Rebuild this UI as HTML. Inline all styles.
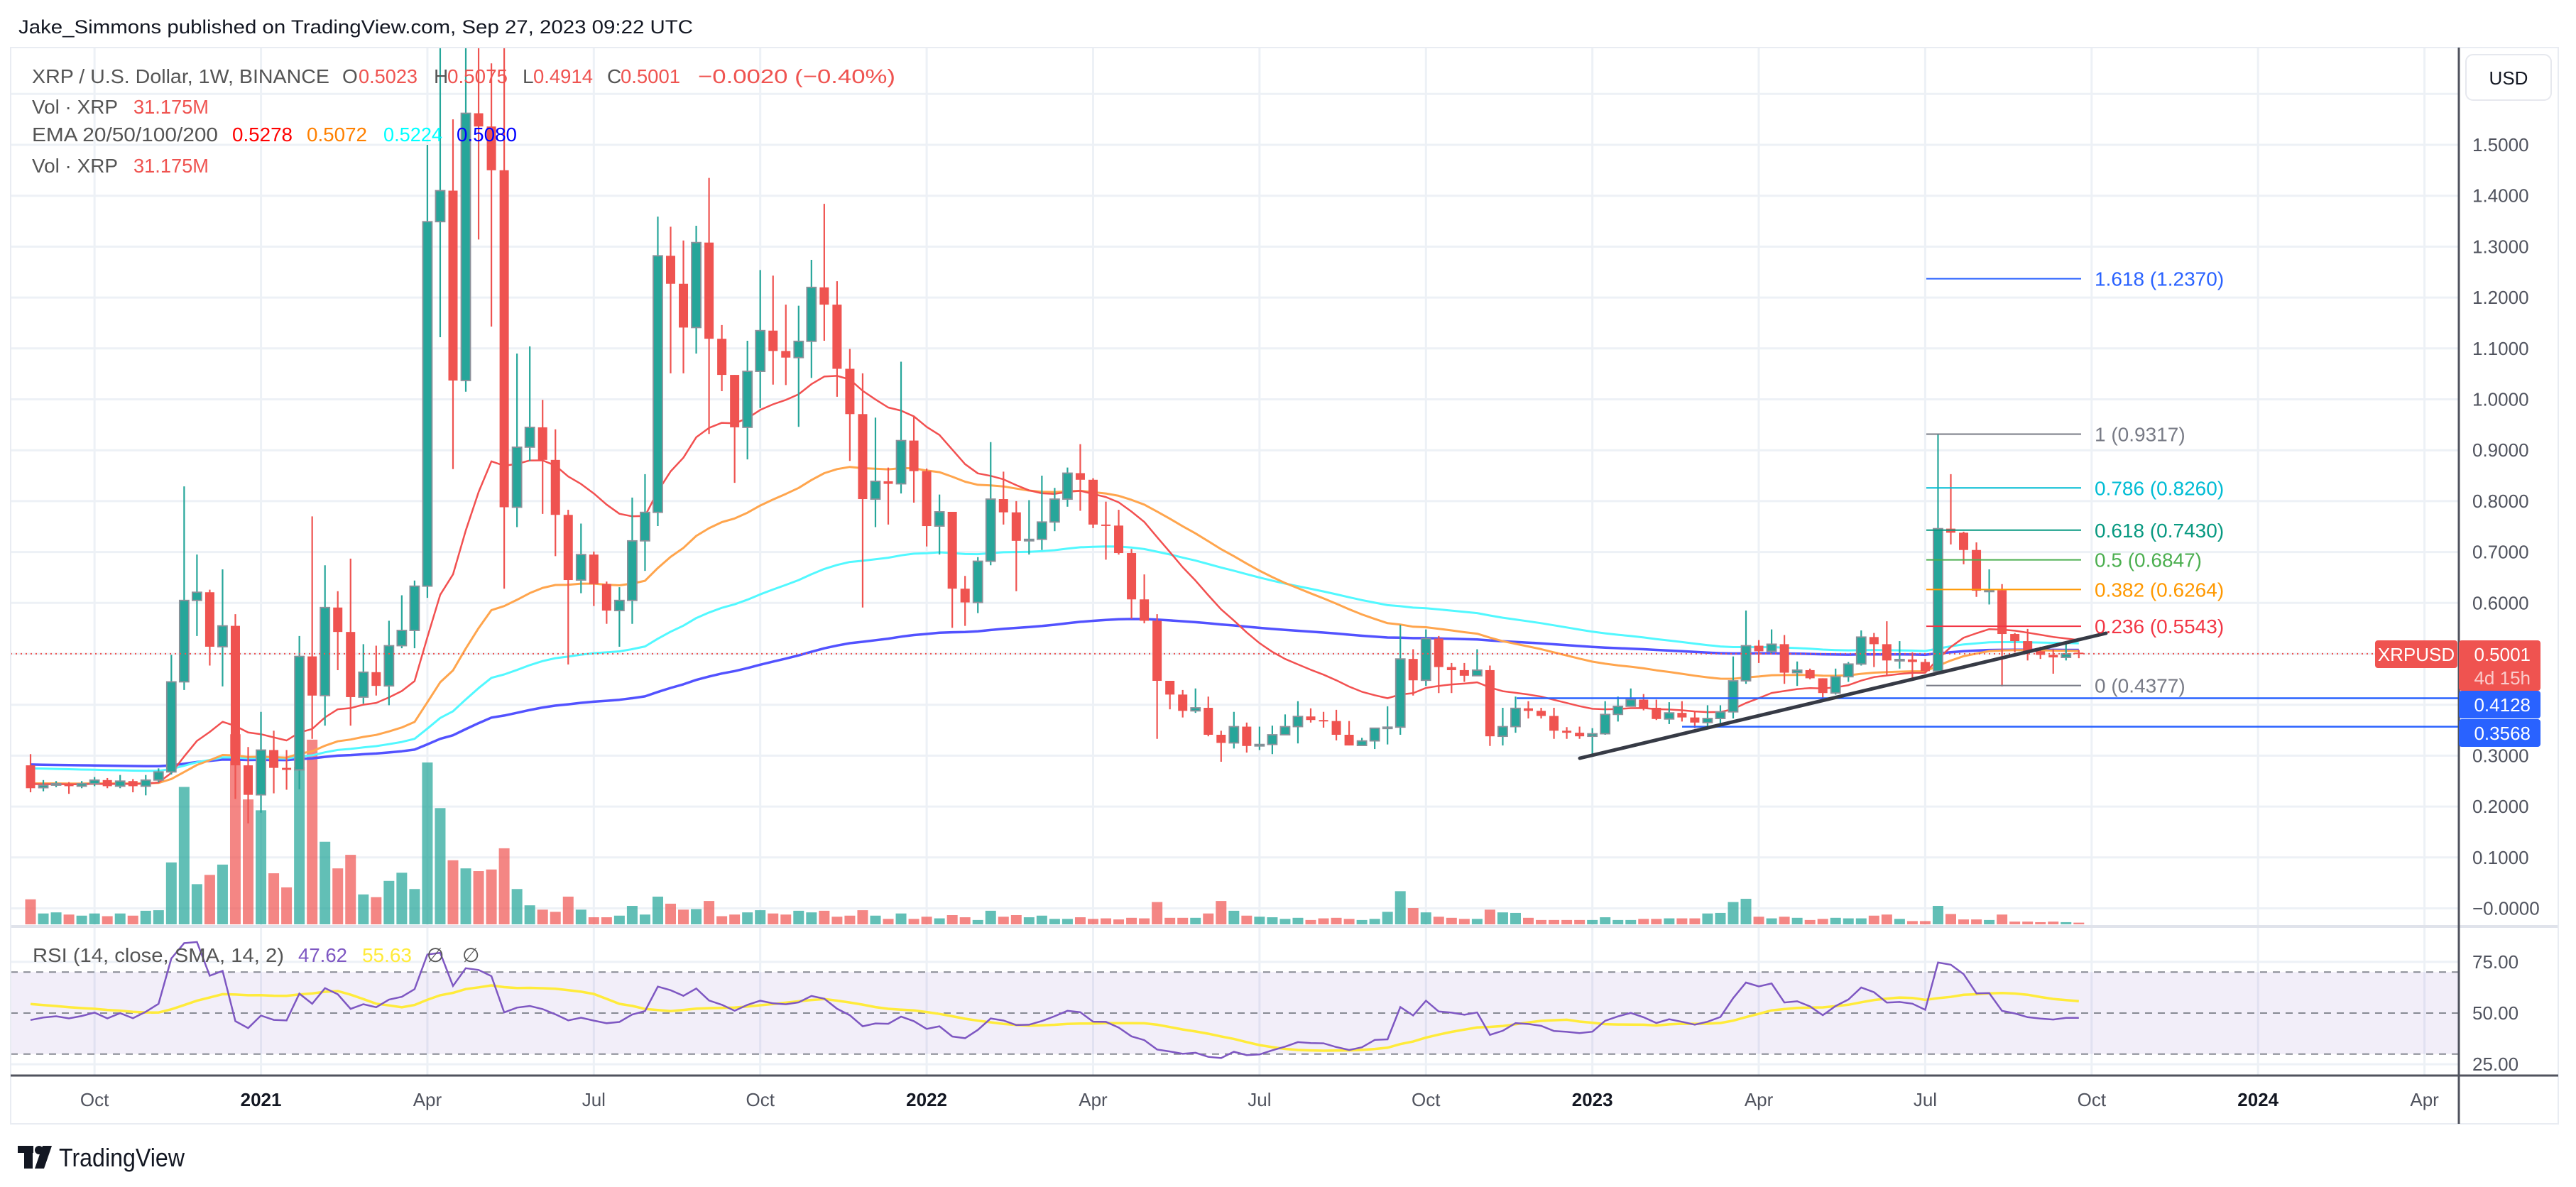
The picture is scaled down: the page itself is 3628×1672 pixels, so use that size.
<!DOCTYPE html>
<html><head><meta charset="utf-8"><title>XRP/USD weekly chart</title>
<style>
html,body{margin:0;padding:0;background:#fff;}
svg{display:block;font-family:"Liberation Sans",sans-serif;}
</style></head>
<body>
<svg id="chart" width="3628" height="1672" viewBox="0 0 3628 1672" xmlns="http://www.w3.org/2000/svg">
<rect x="0" y="0" width="3628" height="1672" fill="#ffffff"/>
<text x="26" y="47" font-size="27" fill="#131722" textLength="950" lengthAdjust="spacingAndGlyphs">Jake_Simmons published on TradingView.com, Sep 27, 2023 09:22 UTC</text>
<g id="grid"></g>
<g id="volumes"></g>
<g id="emas"></g>
<g id="candles"></g>
<g id="overlays"></g>
<g id="rsi"></g>
<g id="axes"></g>
<g id="legend">
  <text x="45" y="117" font-size="28"><tspan fill="#555" textLength="419" lengthAdjust="spacingAndGlyphs">XRP / U.S. Dollar, 1W, BINANCE</tspan></text>
  <text x="482" y="117" font-size="28" fill="#555">O</text>
  <text x="505" y="117" font-size="28" fill="#ef5350" textLength="83" lengthAdjust="spacingAndGlyphs">0.5023</text>
  <text x="611" y="117" font-size="28" fill="#555">H</text>
  <text x="630" y="117" font-size="28" fill="#ef5350" textLength="85" lengthAdjust="spacingAndGlyphs">0.5075</text>
  <text x="736" y="117" font-size="28" fill="#555">L</text>
  <text x="751" y="117" font-size="28" fill="#ef5350" textLength="84" lengthAdjust="spacingAndGlyphs">0.4914</text>
  <text x="855" y="117" font-size="28" fill="#555">C</text>
  <text x="874" y="117" font-size="28" fill="#ef5350" textLength="84" lengthAdjust="spacingAndGlyphs">0.5001</text>
  <text x="983" y="117" font-size="28" fill="#ef5350" textLength="278" lengthAdjust="spacingAndGlyphs">−0.0020 (−0.40%)</text>
  <text x="45" y="160" font-size="28" fill="#555" textLength="121" lengthAdjust="spacingAndGlyphs">Vol · XRP</text>
  <text x="188" y="160" font-size="28" fill="#ef5350" textLength="106" lengthAdjust="spacingAndGlyphs">31.175M</text>
  <text x="45" y="199" font-size="28" fill="#555" textLength="262" lengthAdjust="spacingAndGlyphs">EMA 20/50/100/200</text>
  <text x="327" y="199" font-size="28" fill="#ff0000" textLength="85" lengthAdjust="spacingAndGlyphs">0.5278</text>
  <text x="432" y="199" font-size="28" fill="#ff8000" textLength="85" lengthAdjust="spacingAndGlyphs">0.5072</text>
  <text x="540" y="199" font-size="28" fill="#00ffff" textLength="83" lengthAdjust="spacingAndGlyphs">0.5224</text>
  <text x="643" y="199" font-size="28" fill="#0000ff" textLength="85" lengthAdjust="spacingAndGlyphs">0.5080</text>
  <text x="45" y="243" font-size="28" fill="#555" textLength="121" lengthAdjust="spacingAndGlyphs">Vol · XRP</text>
  <text x="188" y="243" font-size="28" fill="#ef5350" textLength="106" lengthAdjust="spacingAndGlyphs">31.175M</text>
  <text x="46" y="1355" font-size="28" fill="#555" textLength="354" lengthAdjust="spacingAndGlyphs">RSI (14, close, SMA, 14, 2)</text>
  <text x="420" y="1355" font-size="28" fill="#7e57c2" textLength="69" lengthAdjust="spacingAndGlyphs">47.62</text>
  <text x="510" y="1355" font-size="28" fill="#ffeb3b" textLength="70" lengthAdjust="spacingAndGlyphs">55.63</text>
  <text x="601" y="1355" font-size="28" fill="#555">∅</text>
  <text x="651" y="1355" font-size="28" fill="#555">∅</text>
</g>
<g>
  <rect x="25" y="1614" width="22" height="10" fill="#131722"/>
  <rect x="34" y="1614" width="12" height="32" fill="#131722"/>
  <circle cx="55" cy="1620" r="6" fill="#131722"/>
  <polygon points="60,1614 73,1614 62,1646 49,1646" fill="#131722"/>
  <text x="83" y="1643" font-size="36" fill="#131722" textLength="177" lengthAdjust="spacingAndGlyphs">TradingView</text>
</g>
</svg>
<script>
// ---- data (weekly XRP/USD, Aug 24 2020 .. Sep 25 2023) ----
const opens = [0.281,0.237,0.242,0.245,0.240,0.245,0.252,0.240,0.250,0.240,0.252,0.268,0.445,0.605,0.621,0.514,0.555,0.281,0.223,0.311,0.276,0.272,0.495,0.418,0.591,0.543,0.415,0.464,0.437,0.516,0.546,0.633,1.349,1.410,1.037,1.562,1.536,1.450,0.788,0.906,0.945,0.881,0.773,0.645,0.695,0.637,0.585,0.605,0.722,0.778,1.282,1.227,1.141,1.308,1.119,1.048,0.945,1.055,1.135,1.095,1.082,1.114,1.220,1.186,1.060,0.971,0.804,0.839,0.834,0.919,0.859,0.751,0.779,0.628,0.601,0.682,0.804,0.778,0.722,0.725,0.759,0.804,0.855,0.842,0.754,0.752,0.698,0.607,0.565,0.447,0.420,0.388,0.394,0.341,0.325,0.357,0.319,0.322,0.341,0.357,0.377,0.370,0.368,0.341,0.320,0.329,0.354,0.356,0.490,0.448,0.530,0.474,0.468,0.457,0.468,0.338,0.357,0.393,0.388,0.378,0.349,0.345,0.338,0.343,0.381,0.397,0.410,0.394,0.372,0.384,0.375,0.365,0.373,0.386,0.447,0.516,0.505,0.519,0.463,0.468,0.452,0.423,0.455,0.480,0.533,0.519,0.487,0.489,0.484,0.466,0.746,0.738,0.704,0.624,0.625,0.539,0.525,0.505,0.498,0.493,0.5023];
const highs = [0.303,0.252,0.250,0.248,0.250,0.258,0.256,0.262,0.254,0.262,0.275,0.498,0.829,0.695,0.626,0.666,0.578,0.317,0.386,0.349,0.311,0.535,0.770,0.674,0.623,0.687,0.519,0.516,0.565,0.615,0.644,1.500,1.750,1.550,1.960,1.800,1.660,1.750,1.090,1.104,0.999,0.941,0.783,0.756,0.701,0.642,0.631,0.807,0.853,1.359,1.339,1.312,1.341,1.435,1.146,1.048,1.115,1.254,1.243,1.186,1.184,1.274,1.384,1.232,1.099,1.051,0.964,0.866,1.074,0.968,0.864,0.813,0.779,0.653,0.690,0.916,0.858,0.800,0.802,0.850,0.826,0.866,0.912,0.845,0.799,0.783,0.706,0.656,0.578,0.447,0.429,0.432,0.416,0.349,0.386,0.365,0.357,0.359,0.381,0.407,0.393,0.386,0.390,0.368,0.335,0.354,0.397,0.557,0.509,0.548,0.535,0.482,0.482,0.509,0.477,0.394,0.416,0.407,0.394,0.394,0.356,0.357,0.354,0.407,0.416,0.432,0.421,0.410,0.405,0.407,0.386,0.399,0.399,0.495,0.585,0.527,0.548,0.537,0.485,0.471,0.452,0.471,0.484,0.546,0.541,0.564,0.525,0.503,0.490,0.932,0.853,0.740,0.719,0.666,0.637,0.541,0.549,0.514,0.509,0.525,0.5075];
const lows = [0.228,0.230,0.238,0.225,0.236,0.240,0.236,0.236,0.228,0.222,0.248,0.263,0.429,0.535,0.477,0.436,0.215,0.167,0.188,0.226,0.233,0.234,0.333,0.359,0.468,0.359,0.402,0.418,0.399,0.511,0.511,0.610,1.122,0.863,1.015,1.314,1.143,0.628,0.749,0.879,0.775,0.692,0.479,0.619,0.594,0.559,0.514,0.559,0.663,0.751,1.051,1.051,1.090,0.932,1.016,0.836,0.882,0.983,1.029,1.028,0.946,1.042,1.115,1.005,0.879,0.591,0.749,0.754,0.815,0.797,0.711,0.695,0.551,0.555,0.580,0.674,0.754,0.623,0.695,0.704,0.741,0.789,0.781,0.747,0.685,0.695,0.569,0.560,0.333,0.391,0.375,0.384,0.338,0.288,0.314,0.306,0.311,0.303,0.341,0.324,0.365,0.355,0.330,0.320,0.320,0.313,0.322,0.341,0.418,0.437,0.423,0.423,0.445,0.458,0.319,0.320,0.345,0.373,0.373,0.333,0.333,0.333,0.299,0.341,0.367,0.397,0.389,0.370,0.362,0.367,0.354,0.357,0.359,0.373,0.441,0.482,0.501,0.441,0.437,0.450,0.413,0.420,0.445,0.477,0.474,0.457,0.471,0.452,0.463,0.463,0.715,0.676,0.612,0.597,0.436,0.503,0.487,0.490,0.461,0.487,0.4914];
const closes = [0.236,0.242,0.245,0.240,0.245,0.252,0.240,0.250,0.240,0.252,0.268,0.445,0.605,0.621,0.514,0.555,0.281,0.223,0.311,0.276,0.272,0.495,0.418,0.591,0.543,0.415,0.464,0.437,0.516,0.546,0.633,1.349,1.410,1.037,1.562,1.536,1.450,0.788,0.906,0.945,0.881,0.773,0.645,0.695,0.637,0.585,0.605,0.722,0.778,1.282,1.227,1.141,1.308,1.119,1.048,0.945,1.055,1.135,1.095,1.082,1.114,1.220,1.186,1.060,0.971,0.804,0.839,0.834,0.919,0.859,0.751,0.779,0.628,0.601,0.682,0.804,0.778,0.722,0.725,0.759,0.804,0.855,0.842,0.754,0.752,0.698,0.607,0.565,0.447,0.420,0.388,0.394,0.341,0.325,0.357,0.319,0.322,0.341,0.357,0.377,0.370,0.368,0.341,0.320,0.329,0.354,0.356,0.490,0.448,0.530,0.474,0.468,0.457,0.468,0.338,0.357,0.393,0.388,0.378,0.349,0.345,0.338,0.343,0.381,0.397,0.410,0.394,0.372,0.384,0.375,0.365,0.373,0.386,0.447,0.516,0.505,0.519,0.463,0.468,0.452,0.423,0.455,0.480,0.533,0.519,0.487,0.489,0.484,0.466,0.746,0.738,0.704,0.624,0.625,0.539,0.525,0.505,0.498,0.493,0.500,0.5001];
const volumesM = [460,200,220,180,160,200,150,200,160,250,260,1140,2530,740,910,1100,3500,2300,2100,940,680,2900,3400,1520,1030,1280,550,500,800,950,650,2980,2140,1180,1030,980,1010,1400,650,350,270,230,510,270,130,130,160,340,180,510,380,270,280,430,150,180,220,260,200,180,250,220,250,140,160,260,160,100,200,100,140,110,170,130,80,250,140,170,130,160,100,100,130,100,110,90,120,110,410,120,120,120,200,430,250,160,140,130,100,120,80,110,120,100,80,100,230,610,300,220,140,120,100,100,270,220,210,120,80,80,80,80,80,130,80,80,100,100,110,110,110,200,210,410,470,140,110,140,120,80,100,120,110,110,160,180,100,60,60,340,190,90,90,80,180,50,50,40,50,40,31.175];
const priceTicks = [1.5,1.4,1.3,1.2,1.1,1.0,0.9,0.8,0.7,0.6,0.3,0.2,0.1,0.0];
const priceTickLabels = ["1.5000","1.4000","1.3000","1.2000","1.1000","1.0000","0.9000","0.8000","0.7000","0.6000","0.3000","0.2000","0.1000","−0.0000"];
const gridPrices = [1.6,1.5,1.4,1.3,1.2,1.1,1.0,0.9,0.8,0.7,0.6,0.5,0.4,0.3,0.2,0.1,0.0];
const timeTickIdx = [5,18,31,44,57,70,83,96,109,122,135,148,161,174,187];
const timeTickLabels = ["Oct","2021","Apr","Jul","Oct","2022","Apr","Jul","Oct","2023","Apr","Jul","Oct","2024","Apr"];
const fibRatios = ["1.618","1","0.786","0.618","0.5","0.382","0.236","0"];
const fibPrices = [1.2370,0.9317,0.8260,0.7430,0.6847,0.6264,0.5543,0.4377];
const hLinePrices = [0.4128,0.3568];
const rsiLevels = [70,50,30];
const rsiTicks = [75,50,25];

// ---- scales ----
const X0 = 43, STEP = 18.03;
const xOf = i => X0 + i * STEP;
const yP = p => 204 + (1.5 - p) * 717;
const yRsi = r => 1427 - (r - 50) * 2.885;
const yVol = v => 1302 - v * 0.0765;
const PL = 15, PR = 3463, PT = 67, PB = 1305, RB = 1515, AB = 1583;
const NS = "http://www.w3.org/2000/svg";
function mk(tag, attrs, parent) {
  const e = document.createElementNS(NS, tag);
  for (const k in attrs) e.setAttribute(k, attrs[k]);
  parent.appendChild(e);
  return e;
}
const gGrid = document.getElementById('grid');
const gVol = document.getElementById('volumes');
const gEma = document.getElementById('emas');
const gC = document.getElementById('candles');
const gO = document.getElementById('overlays');
const gR = document.getElementById('rsi');
const gA = document.getElementById('axes');

// clip
const defs = mk('defs', {}, document.getElementById('chart'));
const cp = mk('clipPath', {id: 'mainclip'}, defs);
mk('rect', {x: PL, y: PT, width: PR - PL, height: PB - PT}, cp);
[gVol, gEma, gC].forEach(g => g.setAttribute('clip-path', 'url(#mainclip)'));

// grid
gridPrices.forEach(p => {
  const l = mk('line', {x1: PL, x2: PR, y1: yP(p), y2: yP(p), stroke: '#edf1f6', 'stroke-width': 3}, gGrid);
  
  
});
[75, 25].forEach(r => {
  const l = mk('line', {x1: PL, x2: PR, y1: yRsi(r), y2: yRsi(r), stroke: '#edf1f6', 'stroke-width': 3}, gGrid);
  
  
});
timeTickIdx.forEach((ti, k) => {
  const x = xOf(ti);
  const l = mk('line', {x1: x, x2: x, y1: PT, y2: RB, stroke: '#edf1f6', 'stroke-width': 3}, gGrid);
  
  
  const t = mk('text', {x: x, y: 1558, 'font-size': 26, 'text-anchor': 'middle', fill: /^\d/.test(timeTickLabels[k]) ? '#131722' : '#50535e', 'font-weight': /^\d/.test(timeTickLabels[k]) ? 'bold' : 'normal'}, gA);
  t.textContent = timeTickLabels[k];
  
  
});

// volumes
volumesM.forEach((v, i) => {
  const up = closes[i] >= opens[i];
  const r = mk('rect', {x: xOf(i) - 7.5, y: yVol(v), width: 15, height: 1302 - yVol(v), fill: up ? 'rgba(38,166,154,0.72)' : 'rgba(239,83,80,0.7)'}, gVol);
  
  
});

// EMAs
function ema(period, seed) {
  const a = 2 / (period + 1); let e = seed; const out = [];
  closes.forEach(c => { e = a * c + (1 - a) * e; out.push(e); });
  return out;
}
const emaDefs = [
  {p: 200, seed: 0.283, c: '#5252ff', w: 3.5, n: 'ema200-line'},
  {p: 100, seed: 0.276, c: '#52f8ff', w: 3, n: 'ema100-line'},
  {p: 50, seed: 0.246, c: '#ffa54d', w: 3, n: 'ema50-line'},
  {p: 20, seed: 0.245, c: '#f25050', w: 2.5, n: 'ema20-line'}
];
emaDefs.forEach(d => {
  const vals = ema(d.p, d.seed);
  const pts = vals.map((v, i) => xOf(i).toFixed(1) + ',' + yP(v).toFixed(1)).join(' ');
  const pl = mk('polyline', {points: pts, fill: 'none', stroke: d.c, 'stroke-width': d.w, 'stroke-linejoin': 'round'}, gEma);
  
  
});

// candles
closes.forEach((c, i) => {
  const o = opens[i], up = c >= o, x = xOf(i);
  const col = up ? '#26a69a' : '#ef5350';
  const w = mk('line', {x1: x, x2: x, y1: yP(highs[i]), y2: yP(lows[i]), stroke: col, 'stroke-width': 2.2}, gC);
  
  
  const top = Math.min(yP(o), yP(c));
  const h = Math.max(2, Math.abs(yP(o) - yP(c)));
  const b = mk('rect', {x: x - 6.5, y: top, width: 13, height: h, fill: col}, gC);
  if (up) { b.setAttribute('stroke', '#8d9099'); b.setAttribute('stroke-width', '1.8'); }
  
  
});

// current price dotted line
const cur = closes[closes.length - 1];
const cl = mk('line', {x1: PL, x2: PR, y1: yP(cur), y2: yP(cur), stroke: '#ef5350', 'stroke-width': 2, 'stroke-dasharray': '2,5'}, gO);



// horizontal support lines
const hStarts = [2136, 2369];
hLinePrices.forEach((p, k) => {
  const l = mk('line', {x1: hStarts[k], x2: PR, y1: yP(p), y2: yP(p), stroke: '#2962ff', 'stroke-width': 2.5}, gO);
  
  
});

// trendline
const tl = mk('line', {x1: 2225, y1: 1068, x2: 2966, y2: 892, stroke: '#363a45', 'stroke-width': 5, 'stroke-linecap': 'round'}, gO);



// fib levels
const fibColors = ['#2962ff', '#787b86', '#00bcd4', '#089981', '#4caf50', '#ff9800', '#f23645', '#787b86'];
fibPrices.forEach((p, k) => {
  const y = yP(p);
  const l = mk('line', {x1: 2713, x2: 2931, y1: y, y2: y, stroke: fibColors[k], 'stroke-width': 2}, gO);
  
  
  const t = mk('text', {x: 2950, y: y + 10, 'font-size': 28, fill: fibColors[k]}, gO);
  t.textContent = fibRatios[k] + ' (' + p.toFixed(4) + ')';
  
  
});

// RSI pane
const band = mk('rect', {x: PL, y: yRsi(70), width: PR - PL, height: yRsi(30) - yRsi(70), fill: 'rgba(126,87,194,0.1)'}, gR);


rsiLevels.forEach(r => {
  const l = mk('line', {x1: PL, x2: PR, y1: yRsi(r), y2: yRsi(r), stroke: '#878a94', 'stroke-width': 2, 'stroke-dasharray': '10,8'}, gR);
  
  
});
let ag = 0.010, al = 0.008, prev = opens[0];
const rsiVals = [];
closes.forEach(c => {
  const d = c - prev; prev = c;
  ag = (ag * 13 + Math.max(d, 0)) / 14;
  al = (al * 13 + Math.max(-d, 0)) / 14;
  rsiVals.push(100 - 100 / (1 + ag / al));
});
const rsiSma = rsiVals.map((v, i) => {
  const s = rsiVals.slice(Math.max(0, i - 13), i + 1);
  const pad = 14 - s.length;
  return (s.reduce((a, b) => a + b, 0) + pad * 55) / 14;
});
const smaLine = mk('polyline', {points: rsiSma.map((v, i) => xOf(i).toFixed(1) + ',' + yRsi(v).toFixed(1)).join(' '), fill: 'none', stroke: '#ffeb3b', 'stroke-width': 3.5}, gR);


const rsiLine = mk('polyline', {points: rsiVals.map((v, i) => xOf(i).toFixed(1) + ',' + yRsi(v).toFixed(1)).join(' '), fill: 'none', stroke: '#7e57c2', 'stroke-width': 2.5}, gR);



// frame and axes
const sep = mk('line', {x1: PL, x2: 3603, y1: PB, y2: PB, stroke: '#e0e3eb', 'stroke-width': 4}, gA);


const fr = mk('rect', {x: PL, y: PT, width: 3603 - PL, height: AB - PT, fill: 'none', stroke: '#e9ecf2', 'stroke-width': 2}, gA);


const ta = mk('line', {x1: PL, x2: 3603, y1: RB, y2: RB, stroke: '#50535e', 'stroke-width': 3}, gA);


const pa = mk('line', {x1: PR, x2: PR, y1: PT, y2: AB, stroke: '#50535e', 'stroke-width': 3}, gA);


priceTicks.forEach((p, k) => {
  const t = mk('text', {x: 3482, y: yP(p) + 9, 'font-size': 26, fill: '#50535e'}, gA);
  t.textContent = priceTickLabels[k];
  
  
});
rsiTicks.forEach(r => {
  const t = mk('text', {x: 3482, y: yRsi(r) + 9, 'font-size': 26, fill: '#50535e'}, gA);
  t.textContent = r.toFixed(2);
  
  
});
const ub = mk('rect', {x: 3473, y: 77, width: 120, height: 64, rx: 10, fill: '#fff', stroke: '#e6e8ee', 'stroke-width': 2}, gA);


const ut = mk('text', {x: 3533, y: 119, 'font-size': 26, 'text-anchor': 'middle', fill: '#131722'}, gA);
ut.textContent = 'USD';



// price labels
const sl = mk('rect', {x: 3345, y: 902, width: 116, height: 39, rx: 4, fill: '#ef5350'}, gA);


const slt = mk('text', {x: 3403, y: 931, 'font-size': 26, 'text-anchor': 'middle', fill: '#fff'}, gA);
slt.textContent = 'XRPUSD';


const pb = mk('rect', {x: 3463, y: 902, width: 115, height: 71, rx: 4, fill: '#ef5350'}, gA);


const pbt = mk('text', {x: 3564, y: 931, 'font-size': 26, 'text-anchor': 'end', fill: '#fff'}, gA);
pbt.textContent = cur.toFixed(4);


const pbc = mk('text', {x: 3564, y: 964, 'font-size': 26, 'text-anchor': 'end', fill: 'rgba(255,255,255,0.7)'}, gA);
pbc.textContent = '4d 15h';


const badgeTops = [973, 1013];
hLinePrices.forEach((p, k) => {
  const r = mk('rect', {x: 3463, y: badgeTops[k], width: 115, height: 39, rx: 4, fill: '#2962ff'}, gA);
  
  
  const t = mk('text', {x: 3564, y: badgeTops[k] + 29, 'font-size': 26, 'text-anchor': 'end', fill: '#fff'}, gA);
  t.textContent = p.toFixed(4);
  
  
});
</script>
</body></html>
